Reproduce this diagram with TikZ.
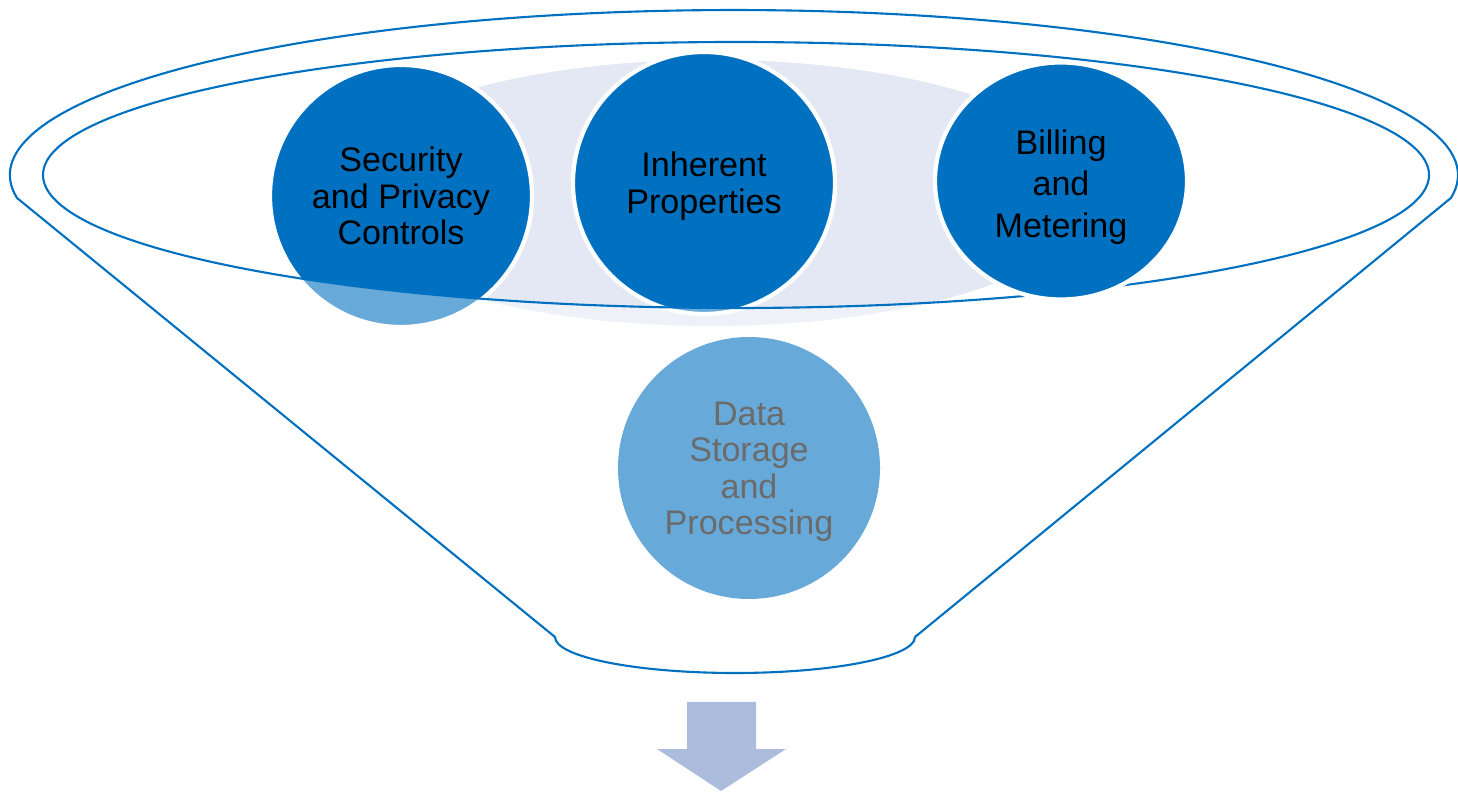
\documentclass[tikz,border=0pt]{standalone}
\usepackage{fontspec}
\setmainfont{Liberation Sans}
\usetikzlibrary{shapes.geometric}
\definecolor{funnelblue}{HTML}{0070C0}
\definecolor{funnelpale}{HTML}{67A9D9}
\definecolor{backlav}{HTML}{E4E8F4}
\definecolor{backlavpale}{HTML}{EEF1F8}
\definecolor{arrowblue}{HTML}{ABBCDD}
\definecolor{datagray}{HTML}{6B6B6B}
\tikzset{
	ball/.style={circle, inner sep=0pt, minimum size=2.62cm, draw=white, line width=1.2pt, align=center, font=\fontsize{9.7}{10.3}\selectfont},
	rim/.style={draw=funnelblue, line width=0.6pt}
}

\begin{document}
\begin{tikzpicture}
	\useasboundingbox (0,0) rectangle (14.58,7.91);
	% back disc and the two rear balls, paler below the rim
	\fill[backlavpale] (7.12,5.98) ellipse (3.85 and 1.33);
	\fill[funnelpale] (4.01,5.95) circle (1.31);
	\fill[funnelpale] (7.04,6.08) circle (1.31);
	\begin{scope}
		\clip (7.36,6.16) ellipse (6.93 and 1.33);
		\fill[backlav] (7.12,5.98) ellipse (3.85 and 1.33);
		\fill[funnelblue] (4.01,5.95) circle (1.31);
		\fill[funnelblue] (7.04,6.08) circle (1.31);
	\end{scope}
	\node[ball] (sec) at (4.01,5.95) {Security\\and Privacy\\Controls};
	\node[ball] (inh) at (7.04,6.08) {\rule{0pt}{8.9pt}Inherent\\Properties};
	% funnel
	\draw[rim] (7.36,6.16) ellipse (6.93 and 1.33);
	\draw[rim] (0.17,5.93) arc[start angle=188, end angle=-8, x radius=7.24, y radius=1.65] -- (9.15,1.54) arc[start angle=0, end angle=-180, x radius=1.80, y radius=0.36] -- cycle;
	\node[ball, ellipse, fill=funnelblue, minimum width=2.52cm, minimum height=2.37cm, font=\fontsize{9.7}{11.9}\selectfont] (bill) at (10.61,6.10) {\rule{0pt}{10.5pt}Billing\\and\\Metering};
	\node[ball, fill=funnelpale, draw=none, text=datagray] (data) at (7.49,3.23) {\rule{0pt}{8.9pt}Data\\Storage\\and\\Processing};
	% output arrow
	\fill[arrowblue] (6.87,0.89) -- (7.56,0.89) -- (7.56,0.42) -- (7.86,0.42) -- (7.21,0) -- (6.57,0.42) -- (6.87,0.42) -- cycle;
\end{tikzpicture}
\end{document}
